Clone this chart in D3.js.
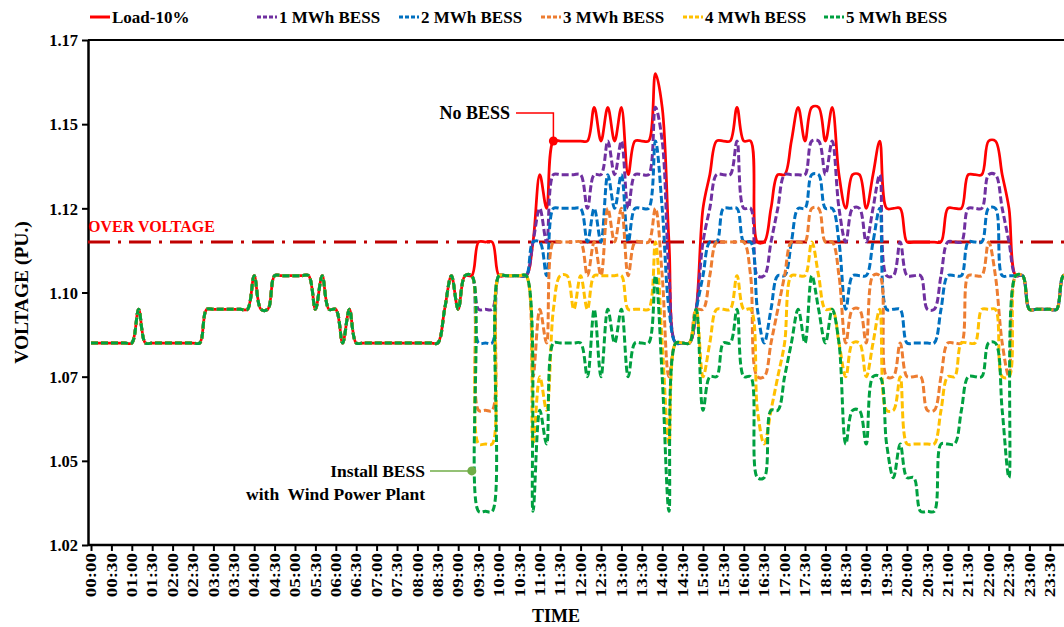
<!DOCTYPE html>
<html>
<head>
<meta charset="utf-8">
<script src="https://cdnjs.cloudflare.com/ajax/libs/d3/7.8.5/d3.min.js"></script>
<style>
  body { margin: 0; background: #fff; }
  svg text { font-family: "Liberation Serif", "Times New Roman", serif; font-weight: bold; fill: #000; }
</style>
</head>
<body>
<div id="chart"></div>
<script>
// samples every 10 minutes, minutes after midnight
const minutes = [
  0,10,20,30,40,50,60,70,80,90,100,110,120,130,140,150,160,170,180,190,
  200,210,220,230,240,250,260,270,280,290,300,310,320,330,340,350,360,370,380,390,
  400,410,420,430,440,450,460,470,480,490,500,510,520,530,540,550,560,570,580,590,
  600,610,620,630,640,650,660,670,680,690,700,710,720,730,740,750,760,770,780,790,
  800,810,820,830,840,850,860,870,880,890,900,910,920,930,940,950,960,970,980,990,
  1000,1010,1020,1030,1040,1050,1060,1070,1080,1090,1100,1110,1120,1130,1140,1150,1160,1170,1180,1190,
  1200,1210,1220,1230,1240,1250,1260,1270,1280,1290,1300,1310,1320,1330,1340,1350,1360,1370,1380,1390,
  1400,1410,1420,1430,1440
];

const load10 = [
  1.08,1.08,1.08,1.08,1.08,1.08,1.08,1.09,1.08,1.08, 1.08,1.08,1.08,1.08,1.08,1.08,1.08,1.09,1.09,1.09,
  1.09,1.09,1.09,1.09,1.10,1.09,1.09,1.10,1.10,1.10, 1.10,1.10,1.10,1.09,1.10,1.09,1.09,1.08,1.09,1.08,
  1.08,1.08,1.08,1.08,1.08,1.08,1.08,1.08,1.08,1.08, 1.08,1.08,1.09,1.10,1.09,1.10,1.10,1.11,1.11,1.11,
  1.10,1.10,1.10,1.10,1.10,1.11,1.13,1.12,1.14,1.14, 1.14,1.14,1.14,1.14,1.15,1.14,1.15,1.14,1.15,1.13,
  1.14,1.14,1.14,1.16,1.15,1.11,1.08,1.08,1.08,1.09, 1.12,1.13,1.14,1.14,1.14,1.15,1.14,1.14,1.11,1.11,
  1.12,1.13,1.13,1.14,1.15,1.14,1.15,1.15,1.14,1.15, 1.13,1.12,1.13,1.13,1.12,1.13,1.14,1.12,1.12,1.12,
  1.11,1.11,1.11,1.11,1.11,1.11,1.12,1.12,1.12,1.13, 1.13,1.13,1.14,1.14,1.13,1.12,1.10,1.10,1.09,1.09,
  1.09,1.09,1.09,1.10,1.10
];
const bess1 = [
  1.08,1.08,1.08,1.08,1.08,1.08,1.08,1.09,1.08,1.08, 1.08,1.08,1.08,1.08,1.08,1.08,1.08,1.09,1.09,1.09,
  1.09,1.09,1.09,1.09,1.10,1.09,1.09,1.10,1.10,1.10, 1.10,1.10,1.10,1.09,1.10,1.09,1.09,1.08,1.09,1.08,
  1.08,1.08,1.08,1.08,1.08,1.08,1.08,1.08,1.08,1.08, 1.08,1.08,1.09,1.10,1.09,1.10,1.10,1.09,1.09,1.09,
  1.10,1.10,1.10,1.10,1.10,1.11,1.12,1.11,1.13,1.13, 1.13,1.13,1.13,1.12,1.13,1.13,1.14,1.13,1.14,1.12,
  1.13,1.13,1.13,1.15,1.14,1.10,1.08,1.08,1.08,1.09, 1.11,1.12,1.13,1.13,1.13,1.14,1.12,1.12,1.10,1.10,
  1.11,1.12,1.13,1.13,1.13,1.13,1.14,1.14,1.13,1.14, 1.12,1.11,1.12,1.12,1.11,1.12,1.13,1.10,1.10,1.11,
  1.10,1.10,1.10,1.09,1.09,1.10,1.11,1.11,1.11,1.12, 1.12,1.12,1.13,1.13,1.12,1.11,1.10,1.10,1.09,1.09,
  1.09,1.09,1.09,1.10,1.10
];
const bess2 = [
  1.08,1.08,1.08,1.08,1.08,1.08,1.08,1.09,1.08,1.08, 1.08,1.08,1.08,1.08,1.08,1.08,1.08,1.09,1.09,1.09,
  1.09,1.09,1.09,1.09,1.10,1.09,1.09,1.10,1.10,1.10, 1.10,1.10,1.10,1.09,1.10,1.09,1.09,1.08,1.09,1.08,
  1.08,1.08,1.08,1.08,1.08,1.08,1.08,1.08,1.08,1.08, 1.08,1.08,1.09,1.10,1.09,1.10,1.10,1.08,1.08,1.08,
  1.10,1.10,1.10,1.10,1.10,1.11,1.11,1.10,1.12,1.12, 1.12,1.12,1.12,1.11,1.12,1.11,1.13,1.12,1.13,1.11,
  1.12,1.12,1.12,1.14,1.12,1.09,1.08,1.08,1.08,1.09, 1.10,1.11,1.11,1.12,1.12,1.12,1.11,1.11,1.09,1.08,
  1.09,1.10,1.10,1.11,1.12,1.12,1.13,1.13,1.12,1.12, 1.11,1.09,1.10,1.10,1.10,1.11,1.12,1.09,1.09,1.09,
  1.08,1.08,1.08,1.08,1.08,1.09,1.10,1.10,1.10,1.11, 1.11,1.11,1.12,1.12,1.10,1.10,1.10,1.10,1.09,1.09,
  1.09,1.09,1.09,1.10,1.10
];
const bess3 = [
  1.08,1.08,1.08,1.08,1.08,1.08,1.08,1.09,1.08,1.08, 1.08,1.08,1.08,1.08,1.08,1.08,1.08,1.09,1.09,1.09,
  1.09,1.09,1.09,1.09,1.10,1.09,1.09,1.10,1.10,1.10, 1.10,1.10,1.10,1.09,1.10,1.09,1.09,1.08,1.09,1.08,
  1.08,1.08,1.08,1.08,1.08,1.08,1.08,1.08,1.08,1.08, 1.08,1.08,1.09,1.10,1.09,1.10,1.10,1.06,1.06,1.06,
  1.10,1.10,1.10,1.10,1.10,1.07,1.09,1.08,1.11,1.11, 1.11,1.11,1.11,1.10,1.11,1.10,1.12,1.11,1.12,1.10,
  1.11,1.11,1.11,1.12,1.10,1.07,1.08,1.08,1.08,1.09, 1.09,1.10,1.11,1.11,1.11,1.11,1.11,1.10,1.07,1.07,
  1.08,1.09,1.10,1.11,1.11,1.11,1.12,1.12,1.11,1.11, 1.10,1.08,1.09,1.09,1.08,1.10,1.10,1.07,1.07,1.08,
  1.07,1.07,1.07,1.06,1.06,1.07,1.08,1.08,1.08,1.10, 1.10,1.10,1.11,1.10,1.08,1.07,1.10,1.10,1.09,1.09,
  1.09,1.09,1.09,1.10,1.10
];
const bess4 = [
  1.08,1.08,1.08,1.08,1.08,1.08,1.08,1.09,1.08,1.08, 1.08,1.08,1.08,1.08,1.08,1.08,1.08,1.09,1.09,1.09,
  1.09,1.09,1.09,1.09,1.10,1.09,1.09,1.10,1.10,1.10, 1.10,1.10,1.10,1.09,1.10,1.09,1.09,1.08,1.09,1.08,
  1.08,1.08,1.08,1.08,1.08,1.08,1.08,1.08,1.08,1.08, 1.08,1.08,1.09,1.10,1.09,1.10,1.10,1.05,1.05,1.05,
  1.10,1.10,1.10,1.10,1.10,1.05,1.07,1.06,1.09,1.10, 1.10,1.09,1.10,1.09,1.10,1.10,1.10,1.10,1.10,1.09,
  1.09,1.09,1.09,1.11,1.08,1.05,1.08,1.08,1.08,1.09, 1.07,1.08,1.09,1.09,1.09,1.10,1.09,1.09,1.06,1.05,
  1.06,1.07,1.08,1.10,1.10,1.10,1.11,1.10,1.09,1.09, 1.08,1.07,1.08,1.08,1.07,1.08,1.09,1.06,1.06,1.07,
  1.05,1.05,1.05,1.05,1.05,1.06,1.07,1.07,1.08,1.08, 1.08,1.09,1.09,1.09,1.07,1.07,1.10,1.10,1.09,1.09,
  1.09,1.09,1.09,1.10,1.10
];
const bess5 = [
  1.08,1.08,1.08,1.08,1.08,1.08,1.08,1.09,1.08,1.08, 1.08,1.08,1.08,1.08,1.08,1.08,1.08,1.09,1.09,1.09,
  1.09,1.09,1.09,1.09,1.10,1.09,1.09,1.10,1.10,1.10, 1.10,1.10,1.10,1.09,1.10,1.09,1.09,1.08,1.09,1.08,
  1.08,1.08,1.08,1.08,1.08,1.08,1.08,1.08,1.08,1.08, 1.08,1.08,1.09,1.10,1.09,1.10,1.10,1.03,1.03,1.03,
  1.10,1.10,1.10,1.10,1.10,1.03,1.06,1.05,1.08,1.08, 1.08,1.08,1.08,1.07,1.09,1.07,1.09,1.08,1.09,1.07,
  1.08,1.08,1.08,1.10,1.07,1.03,1.08,1.08,1.08,1.09, 1.06,1.07,1.07,1.08,1.08,1.09,1.07,1.07,1.04,1.04,
  1.06,1.06,1.07,1.08,1.09,1.08,1.10,1.09,1.08,1.09, 1.08,1.05,1.06,1.06,1.05,1.07,1.07,1.05,1.04,1.05,
  1.04,1.04,1.03,1.03,1.03,1.05,1.05,1.05,1.06,1.07, 1.07,1.07,1.08,1.08,1.06,1.04,1.10,1.10,1.09,1.09,
  1.09,1.09,1.09,1.10,1.10
];

const seriesNames = ["Load-10%", "1 MWh BESS", "2 MWh BESS", "3 MWh BESS", "4 MWh BESS", "5 MWh BESS"];
const seriesValues = [load10, bess1, bess2, bess3, bess4, bess5];
const seriesColors = ["#FF0000", "#7030A0", "#0070C0", "#ED7D31", "#FFC000", "#00A040"];

const overVoltage = 1.11;
const yTickValues = [1.02, 1.045, 1.07, 1.095, 1.12, 1.145, 1.17];
const yTickLabels = ["1.02", "1.05", "1.07", "1.10", "1.12", "1.15", "1.17"];
const xTickLabels = [
  "00:00","00:30","01:00","01:30","02:00","02:30","03:00","03:30","04:00","04:30",
  "05:00","05:30","06:00","06:30","07:00","07:30","08:00","08:30","09:00","09:30",
  "10:00","10:30","11:00","11:30","12:00","12:30","13:00","13:30","14:00","14:30",
  "15:00","15:30","16:00","16:30","17:00","17:30","18:00","18:30","19:00","19:30",
  "20:00","20:30","21:00","21:30","22:00","22:30","23:00","23:30"
];

const width = 1064, height = 627;
const margin = { top: 40, left: 88, bottom: 82 };
const plotBottom = height - margin.bottom;

const svg = d3.select("#chart").append("svg")
  .attr("width", width)
  .attr("height", height);

const x = d3.scaleLinear().domain([0, 1440]).range([91, 91 + 144 * 6.8]);
const y = d3.scaleLinear().domain([1.02, 1.17]).range([plotBottom, margin.top]);

// top border of plot area
svg.append("line")
  .attr("x1", margin.left).attr("x2", width)
  .attr("y1", margin.top).attr("y2", margin.top)
  .attr("stroke", "#000").attr("stroke-width", 2);

// y axis
const yAxis = svg.append("g")
  .attr("transform", `translate(${margin.left},0)`)
  .call(d3.axisLeft(y).tickValues(yTickValues).tickFormat((d, i) => yTickLabels[i]).tickSize(6).tickSizeOuter(0));
yAxis.select(".domain").attr("stroke-width", 2.5);
yAxis.selectAll(".tick line").attr("stroke-width", 2);
yAxis.selectAll(".tick text")
  .attr("x", -10)
  .attr("dy", "0.35em")
  .style("font-size", "16.5px")
  .style("font-family", "'Liberation Serif', serif")
  .style("font-weight", "bold");

// x axis
const xTickMinutes = xTickLabels.map(s => +s.slice(0, 2) * 60 + +s.slice(3));
const xAxis = svg.append("g")
  .attr("transform", `translate(0,${plotBottom})`)
  .call(d3.axisBottom(x).tickValues(xTickMinutes).tickFormat((d, i) => xTickLabels[i]).tickSize(6).tickSizeOuter(0));
xAxis.select(".domain").remove();
xAxis.append("line")
  .attr("x1", margin.left).attr("x2", width)
  .attr("stroke", "#000").attr("stroke-width", 2.5);
xAxis.selectAll(".tick line").attr("stroke-width", 2);
xAxis.selectAll(".tick text")
  .attr("text-anchor", "end")
  .attr("transform", "translate(0,8) rotate(-90) scale(1,0.72)")
  .attr("x", 0).attr("y", 0).attr("dy", "0.35em")
  .style("font-size", "19px")
  .style("font-family", "'Liberation Serif', serif")
  .style("font-weight", "bold");

// axis titles
svg.append("text")
  .attr("transform", `translate(28,${(margin.top + plotBottom) / 2}) rotate(-90)`)
  .attr("text-anchor", "middle")
  .style("font-size", "19.5px")
  .text("VOLTAGE (PU.)");
svg.append("text")
  .attr("x", 556).attr("y", 622)
  .attr("text-anchor", "middle")
  .style("font-size", "18px")
  .text("TIME");

// over voltage limit
svg.append("line")
  .attr("x1", margin.left).attr("x2", width)
  .attr("y1", y(overVoltage)).attr("y2", y(overVoltage))
  .attr("stroke", "#C00000").attr("stroke-width", 3)
  .attr("stroke-dasharray", "22,8,3,8");
svg.append("text")
  .attr("x", margin.left).attr("y", y(overVoltage) - 10)
  .style("font-size", "16px")
  .style("fill", "#FF0000")
  .text("OVER VOLTAGE");

// series lines (load first, 5 MWh on top)
const line = d3.line()
  .x((d, i) => x(minutes[i]))
  .y(d => y(d))
  .curve(d3.curveCatmullRom.alpha(0.5));

seriesValues.forEach((vals, s) => {
  svg.append("path")
    .datum(vals)
    .attr("fill", "none")
    .attr("stroke", seriesColors[s])
    .attr("stroke-width", s === 0 ? 2.75 : 3)
    .attr("stroke-dasharray", s === 0 ? null : "7,3")
    .attr("d", line);
});

// annotation: No BESS
const noBessIdx = 68;
const nbx = x(minutes[noBessIdx]), nby = y(load10[noBessIdx]);
svg.append("path")
  .attr("d", `M${nbx},${nby}V113H516`)
  .attr("fill", "none").attr("stroke", "#FF0000").attr("stroke-width", 1.5);
svg.append("circle").attr("cx", nbx).attr("cy", nby).attr("r", 4.5).attr("fill", "#FF0000");
svg.append("text")
  .attr("x", 510).attr("y", 119)
  .attr("text-anchor", "end")
  .style("font-size", "18px")
  .text("No BESS");

// annotation: Install BESS
const installMin = 560, installV = 1.042;
const ibx = x(installMin), iby = y(installV);
svg.append("line")
  .attr("x1", 430).attr("x2", ibx).attr("y1", iby).attr("y2", iby)
  .attr("stroke", "#70AD47").attr("stroke-width", 1.5);
svg.append("circle").attr("cx", ibx).attr("cy", iby).attr("r", 4.5).attr("fill", "#70AD47");
svg.append("text")
  .attr("x", 425).attr("y", iby + 6)
  .attr("text-anchor", "end")
  .style("font-size", "17.5px")
  .text("Install BESS");
svg.append("text")
  .attr("x", 425).attr("y", iby + 29)
  .attr("text-anchor", "end")
  .style("font-size", "17.5px")
  .style("white-space", "pre")
  .text("with  Wind Power Plant");

// legend
const legendX = [90, 257, 399, 541, 683, 824];
const legend = svg.append("g").attr("transform", "translate(0,17)");
seriesNames.forEach((name, s) => {
  legend.append("line")
    .attr("x1", legendX[s]).attr("x2", legendX[s] + 20)
    .attr("stroke", seriesColors[s]).attr("stroke-width", 3)
    .attr("stroke-dasharray", s === 0 ? null : "4,2");
  legend.append("text")
    .attr("x", legendX[s] + 22).attr("dy", "0.35em")
    .style("font-size", "17px")
    .text(name);
});
</script>
</body>
</html>
